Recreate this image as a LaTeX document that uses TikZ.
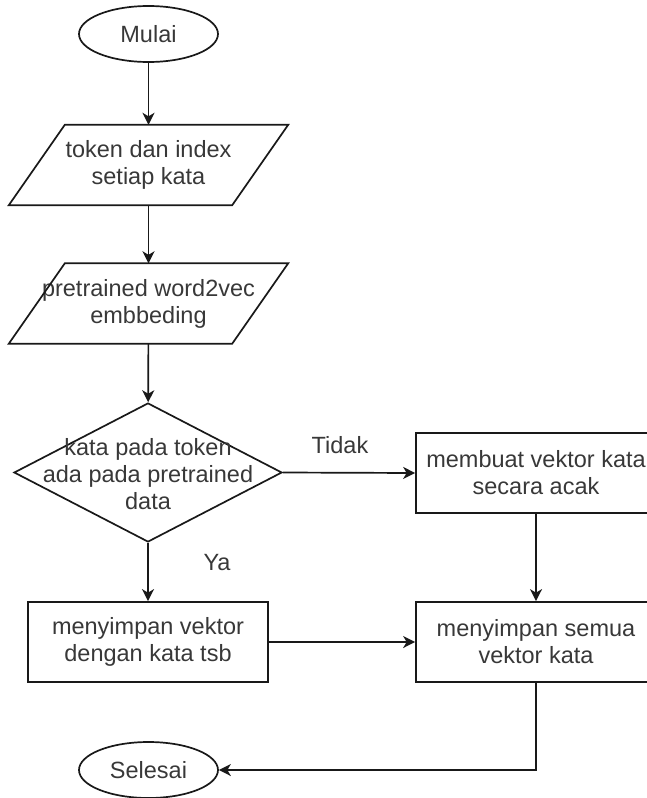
\documentclass[tikz,border=0pt]{standalone}
\usepackage{fontspec}
\setmainfont{Liberation Sans}
\usetikzlibrary{shapes.geometric,arrows.meta}
\begin{document}
\begin{tikzpicture}[x=1pt,y=-1pt,
  every node/.style={font=\fontsize{23.5}{27}\selectfont, text=black!78, align=center},
  line/.style={draw=black!90, line width=1.7pt},
  conn/.style={line, -{Stealth[length=12pt,width=12pt,inset=3.5pt]}},
  term/.style={ellipse, line, minimum width=139pt, minimum height=56pt, inner sep=0pt},
  proc/.style={rectangle, line, minimum width=240pt, minimum height=80pt, inner sep=0pt},
  io/.style={rectangle, minimum width=279pt, minimum height=80pt, inner sep=0pt},
  dec/.style={diamond, line, minimum width=268pt, minimum height=139pt, inner sep=0pt},
  lbl/.style={inner sep=0pt}
]
\useasboundingbox (0,0) rectangle (647,798);

\node[term] (mulai) at (148.5,34) {Mulai};
\node[io] (p1) at (148.5,165) {token dan index\\setiap kata};
\draw[line] ([xshift=56pt]p1.north west) -- (p1.north east) -- ([xshift=-56pt]p1.south east) -- (p1.south west) -- cycle;
\node[io] (p2) at (148.5,303.5) {pretrained word2vec\\embbeding};
\draw[line] ([xshift=56pt]p2.north west) -- (p2.north east) -- ([xshift=-56pt]p2.south east) -- (p2.south west) -- cycle;
\node[dec] (d) at (148,472.5) {};
\node[lbl] (dt) at (148,474) {kata pada token\\ada pada pretrained\\data};
\node[proc] (a) at (536,473) {membuat vektor kata\\secara acak};
\node[proc] (b) at (148,642) {menyimpan vektor\\dengan kata tsb};
\node[proc] (c) at (536,642) {menyimpan semua\\vektor kata};
\node[term] (s) at (148.5,770) {Selesai};
\node[lbl] (tidak) at (340,445) {Tidak};
\node[lbl] (ya) at (217,563) {Ya};

\draw[conn] (mulai) -- (p1);
\draw[conn] (p1) -- (p2);
\draw[conn] (p2) -- (d);
\draw[conn] (d.east) -- (a.west);
\draw[conn] (d.south) -- (b.north);
\draw[conn] (a) -- (c);
\draw[conn] (b) -- (c);
\draw[conn] (c.south) |- (s.east);
\end{tikzpicture}
\end{document}
